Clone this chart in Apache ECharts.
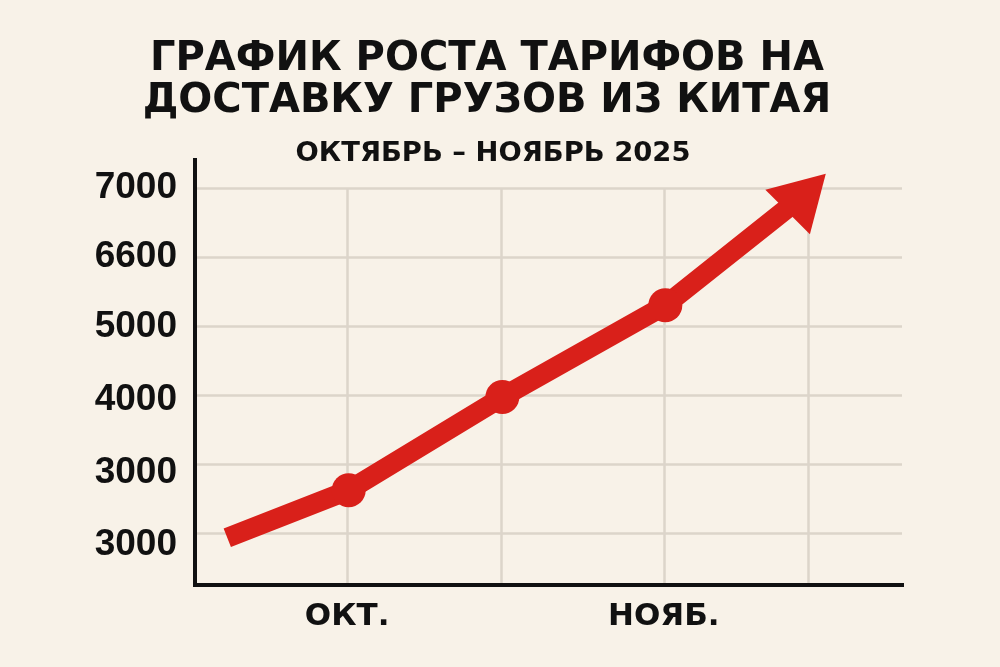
<!DOCTYPE html>
<html>
<head>
<meta charset="utf-8">
<script src="https://cdn.jsdelivr.net/npm/echarts@6/dist/echarts.min.js"></script>
<style>
  html, body { margin: 0; padding: 0; background: #f8f2e8; }
  #chart { width: 1000px; height: 667px; }
</style>
</head>
<body>
<div id="chart"></div>
<script>
// ---- data ----
const titleText = 'ГРАФИК РОСТА ТАРИФОВ НА\nДОСТАВКУ ГРУЗОВ ИЗ КИТАЯ';
const subtitleText = 'ОКТЯБРЬ – НОЯБРЬ 2025';
// y: gridline index scale; labels as printed (they sit slightly off their gridlines)
const yGridValues = [0, 1, 2, 3, 4, 5];
const yLabelValues = [-0.17, 0.87, 1.93, 2.99, 4.01, 5.0];
const yTickLabels = ['3000', '3000', '4000', '5000', '6600', '7000'];
// x: month steps
const xGridValues = [0.99, 1.99, 3.05, 3.99];
const xTickLabels = ['ОКТ.', '', 'НОЯБ.', ''];
// the red line path
const pointX = [0.21, 1.0, 2.0, 3.06, 3.98];
const pointY = [-0.07, 0.62, 1.97, 3.30, 4.93];

// ---- styles ----
const RED = '#d9201a';
const INK = '#111111';
const GRID = '#dcd5ca';
const BG = '#f8f2e8';
const X_MAX = 4.6;
const Y_MIN = -0.754;
const Y_MAX = 5;

const seriesData = pointX.map((x, i) => {
  const item = { value: [x, pointY[i]] };
  if (i === 0) item.symbol = 'none';
  else if (i === pointX.length - 1) {
    item.symbol = 'triangle';
    item.symbolSize = [63, 54];
    item.symbolRotate = -45;
  } else {
    item.symbol = 'circle';
    item.symbolSize = 34;
  }
  return item;
});

const chart = echarts.init(document.getElementById('chart'), null, { renderer: 'canvas' });
const gridPos = { left: 195, right: 98 };

chart.setOption({
  backgroundColor: BG,
  animation: false,
  title: [
    {
      text: titleText,
      left: 482, top: 34, textAlign: 'center',
      textStyle: { fontFamily: 'DejaVu Sans', fontWeight: 'bold', fontSize: 40, lineHeight: 42, color: INK }
    },
    {
      text: subtitleText,
      left: 488, top: 135, textAlign: 'center',
      textStyle: { fontFamily: 'DejaVu Sans', fontWeight: 'bold', fontSize: 27.4, color: INK }
    }
  ],
  grid: [
    Object.assign({ top: 160, bottom: 82 }, gridPos),   // frame (axis lines)
    Object.assign({ top: 188, bottom: 82 }, gridPos)    // plot area with gridlines
  ],
  xAxis: [
    {
      gridIndex: 0, type: 'value', min: 0, max: X_MAX,
      axisLine: { show: true, onZero: false, lineStyle: { color: INK, width: 4, cap: 'square' } },
      axisTick: { show: false, customValues: xGridValues },
      splitLine: { show: false },
      axisLabel: {
        customValues: xGridValues,
        margin: 16,
        fontFamily: 'DejaVu Sans', fontWeight: 'bold', fontSize: 31, color: INK,
        formatter: v => xTickLabels[xGridValues.indexOf(v)] || ''
      }
    },
    {
      gridIndex: 1, type: 'value', min: 0, max: X_MAX,
      axisLine: { show: false },
      axisTick: { show: false, customValues: xGridValues },
      axisLabel: { show: false },
      splitLine: { show: true, lineStyle: { width: 2.5, color: GRID } }
    }
  ],
  yAxis: [
    {
      gridIndex: 0, type: 'value', min: 0, max: 1,
      axisLine: { show: true, lineStyle: { color: INK, width: 4, cap: 'square' } },
      axisTick: { show: false }, axisLabel: { show: false }, splitLine: { show: false }
    },
    {
      gridIndex: 1, type: 'value', min: Y_MIN, max: Y_MAX,
      axisLine: { show: false },
      axisTick: { show: false, customValues: yGridValues },
      axisLabel: {
        customValues: yLabelValues,
        margin: 18,
        fontFamily: 'Liberation Sans', fontWeight: 'bold', fontSize: 37, color: INK,
        formatter: v => yTickLabels[yLabelValues.indexOf(v)] || ''
      },
      splitLine: { show: true, lineStyle: { color: GRID, width: 2.5 } }
    }
  ],
  series: [
    {
      type: 'line',
      xAxisIndex: 1, yAxisIndex: 1,
      data: seriesData,
      clip: false,
      showSymbol: true,
      showAllSymbol: true,
      itemStyle: { color: RED },
      lineStyle: { color: RED, width: 20, cap: 'butt', join: 'round' },
      z: 5
    }
  ]
});
</script>
</body>
</html>
